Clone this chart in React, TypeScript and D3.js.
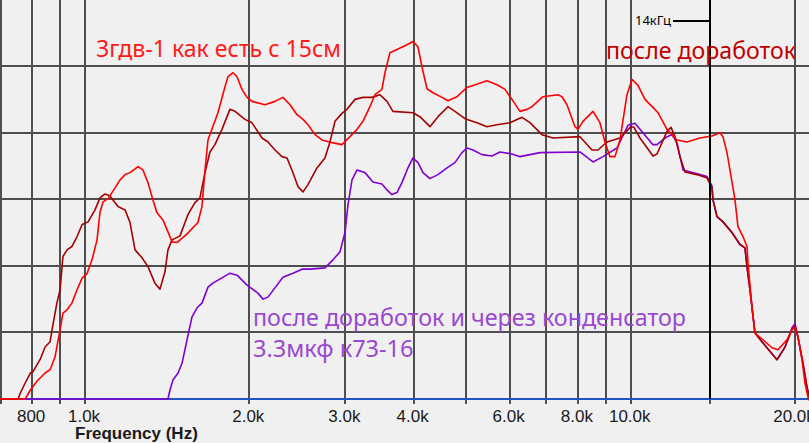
import React from "react";
import * as d3 from "d3";

// ---- data (Hz / dB) ----
const freqOriginal = [699, 777, 794, 817, 845, 863, 881, 900, 911, 927, 946, 967, 988, 1008, 1030, 1052, 1065, 1079, 1102, 1135, 1159, 1184, 1209, 1251, 1277, 1304, 1332, 1354, 1389, 1419, 1444, 1474, 1538, 1610, 1638, 1659, 1680, 1708, 1752, 1805, 1828, 1867, 1899, 1939, 1981, 2022, 2137, 2229, 2305, 2375, 2446, 2509, 2562, 2639, 2717, 2835, 2957, 3033, 3151, 3231, 3327, 3399, 3500, 3545, 3620, 3729, 3890, 3990, 4075, 4144, 4233, 4341, 4510, 4625, 4803, 5011, 5139, 5452, 5687, 5882, 6058, 6267, 6454, 6592, 6905, 7356, 7482, 7641, 7904, 8004, 8175, 8528, 8781, 8970, 9161, 9357, 9556, 9843, 10053, 10310, 10620, 10984, 11218, 11653, 12155, 12679, 13392, 14089, 14572, 14759, 15010, 15200, 15525, 15722, 16058, 16331, 16400, 16679, 16892, 17472, 18148, 18614, 19335, 19747, 19999, 20253, 20598, 20861, 21126, 21486];
const levelOriginal = [40, 40, 41.35, 42.7, 43.9, 44.4, 46.3, 50.4, 52.9, 53.4, 54.4, 56.4, 58.2, 58.8, 60.9, 63.9, 68.0, 69.6, 70.1, 71.7, 72.9, 73.7, 74.0, 74.9, 74.4, 72.5, 69.9, 68.0, 66.9, 65.1, 63.6, 63.5, 64.8, 66.5, 68.9, 74.4, 78.9, 80.5, 83.0, 86.9, 88.4, 89.0, 88.4, 86.5, 85.3, 84.7, 84.2, 84.7, 85.3, 84.2, 82.7, 82.0, 81.2, 79.7, 78.9, 78.5, 78.2, 79.1, 80.5, 81.7, 83.9, 85.7, 86.5, 89.0, 92.0, 92.5, 93.2, 93.7, 92.9, 89.9, 86.6, 86.0, 85.3, 84.8, 85.4, 86.8, 87.1, 87.8, 87.2, 86.5, 85.0, 83.2, 83.5, 83.9, 85.4, 85.7, 85.4, 84.2, 80.9, 80.5, 81.7, 83.2, 81.5, 78.6, 76.4, 76.4, 78.9, 85.7, 88.0, 87.1, 85.0, 83.8, 83.0, 80.5, 78.9, 78.6, 79.2, 79.5, 80.0, 79.4, 77.0, 74.4, 69.9, 65.9, 64.4, 62.9, 60.5, 53.8, 49.9, 48.9, 47.7, 47.4, 48.9, 50.4, 50.8, 49.3, 45.9, 42.4, 40.3, 38.3];

const freqModified = [699, 754, 761, 777, 794, 803, 827, 845, 863, 870, 888, 900, 911, 927, 946, 967, 988, 1013, 1043, 1065, 1088, 1111, 1149, 1184, 1209, 1235, 1272, 1304, 1343, 1372, 1401, 1419, 1444, 1493, 1544, 1590, 1624, 1659, 1694, 1730, 1782, 1843, 1883, 1964, 2022, 2110, 2164, 2229, 2296, 2345, 2394, 2456, 2509, 2562, 2661, 2752, 2811, 2871, 2957, 3020, 3124, 3231, 3356, 3471, 3575, 3667, 3990, 4109, 4286, 4434, 4625, 4763, 4969, 5227, 5452, 5687, 6007, 6319, 6536, 6876, 7203, 8072, 8492, 8709, 9046, 9556, 10011, 10138, 10398, 10984, 11171, 11653, 11852, 12053, 12310, 12572, 13225, 13795, 14089, 14149, 14390, 14759, 15329, 15855, 16194, 16331, 16538, 16892, 17398, 18536, 19172, 19747, 19999, 20253, 20686, 21038, 21396];
const levelModified = [40, 40, 40.9, 42.4, 43.9, 44.1, 45.9, 47.8, 48.6, 50.4, 54.4, 56.4, 61.4, 62.4, 62.9, 64.4, 66.2, 66.6, 68.4, 70.2, 70.8, 70.5, 68.9, 68.4, 66.5, 62.4, 61.2, 59.9, 57.4, 56.5, 59.1, 62.4, 63.9, 64.5, 67.7, 69.5, 70.2, 74.0, 77.1, 78.2, 80.5, 83.5, 83.2, 82.0, 81.5, 79.2, 78.6, 77.4, 76.4, 76.2, 74.4, 71.9, 71.1, 72.2, 74.7, 76.2, 78.6, 81.7, 82.9, 83.5, 85.0, 85.3, 85.3, 85.7, 84.7, 83.2, 83.0, 82.4, 80.9, 82.4, 83.9, 83.2, 82.1, 81.5, 80.9, 81.2, 81.5, 82.3, 81.5, 79.7, 79.2, 79.4, 77.4, 77.4, 78.6, 79.2, 80.9, 80.8, 79.2, 76.5, 76.8, 80.2, 80.8, 79.4, 76.4, 74.1, 73.7, 73.2, 71.7, 69.9, 67.4, 66.6, 65.0, 63.2, 62.7, 59.9, 56.4, 49.9, 48.6, 45.9, 47.8, 50.4, 51.0, 49.3, 45.4, 41.8, 39.1];

const freqCapacitor = [699, 1419, 1431, 1450, 1481, 1506, 1538, 1570, 1604, 1638, 1680, 1715, 1782, 1843, 1899, 1981, 2074, 2119, 2164, 2248, 2305, 2405, 2498, 2584, 2752, 2847, 2932, 2995, 3033, 3085, 3151, 3258, 3370, 3500, 3575, 3651, 3729, 3808, 3906, 3990, 4075, 4162, 4286, 4434, 4606, 4763, 4906, 5011, 5139, 5338, 5568, 5759, 6058, 6267, 6818, 8072, 8528, 8895, 9437, 9884, 10181, 10398, 10984, 11171, 11653, 11901, 12155, 12467, 13392, 13795, 14089, 14149, 14390, 14759, 15329, 15855, 16194, 16331, 16538, 16892, 17398, 18536, 19172, 19747, 19999, 20253, 20686, 21038, 21396];
const levelCapacitor = [40, 40, 41.35, 42.9, 43.9, 45.4, 48.9, 52.3, 53.7, 54.4, 56.8, 57.4, 58.2, 58.9, 58.6, 57.1, 55.9, 55.0, 55.3, 57.1, 58.3, 58.9, 59.5, 59.5, 59.7, 60.9, 62.1, 65.0, 69.2, 72.9, 74.4, 74.0, 72.6, 72.3, 71.4, 70.7, 71.0, 72.5, 74.7, 76.2, 75.5, 74.0, 73.1, 73.7, 74.7, 75.5, 77.0, 77.7, 77.4, 76.7, 76.5, 77.1, 76.8, 76.4, 77.0, 77.1, 75.6, 76.4, 77.7, 81.1, 81.4, 80.5, 78.2, 78.2, 79.4, 79.7, 78.5, 74.4, 73.7, 73.4, 72.0, 69.9, 67.4, 66.6, 65.0, 63.2, 62.7, 59.9, 56.4, 49.9, 48.6, 45.9, 47.8, 50.7, 51.3, 49.3, 45.4, 41.8, 39.1];

const gridFreqs = [700, 800, 900, 1000, 2000, 3000, 4000, 5000, 6000, 7000, 8000, 9000, 10000, 20000];
const gridLevels = [50, 60, 70, 80, 90];
const tickFreqs = [800, 1000, 2000, 3000, 4000, 6000, 8000, 10000, 20000];
const tickLabels = ["800", "1.0k", "2.0k", "3.0k", "4.0k", "6.0k", "8.0k", "10.0k", "20.0k"];
const markerFreq = 14000;
const markerLabel = "14кГц";
const titleOriginal = "3гдв-1 как есть с 15см";
const titleModified = "после доработок";
const titleCapacitor1 = "после доработок и через конденсатор";
const titleCapacitor2 = "3.3мкф к73-16";
const axisTitle = "Frequency (Hz)";

const W = 809;
const H = 443;
const AXIS_Y = 399;

export default function App() {
  const x = d3.scaleLog().domain([700, 20000]).range([0.5, 795]);
  const y = d3.scaleLinear().domain([40, 100]).range([AXIS_Y, -0.5]);
  const line = d3
    .line<[number, number]>()
    .x((d) => x(d[0]))
    .y((d) => y(d[1]));
  const zip = (f: number[], l: number[]) => f.map((v, i) => [v, l[i]] as [number, number]);
  const series = [
    { f: freqCapacitor, l: levelCapacitor, c: "#8000d0" },
    { f: freqModified, l: levelModified, c: "#a50000" },
    { f: freqOriginal, l: levelOriginal, c: "#ff0000" },
  ];
  const gx = (f: number) => Math.round(x(f));
  const gy = (v: number) => Math.round(y(v));
  const mx = gx(markerFreq);
  return (
    <svg
      width={W}
      height={H}
      style={{ position: "absolute", left: 0, top: 0, display: "block" }}
      fontFamily="'Liberation Sans', Arial, sans-serif"
    >
      <defs>
        <clipPath id="plotClip">
          <rect x={0} y={0} width={W} height={AXIS_Y + 1.5} />
        </clipPath>
      </defs>
      <rect x={0} y={0} width={W} height={H} fill="#f0f0f0" />
      {gridLevels.map((v) => (
        <line key={"h" + v} x1={0} x2={W} y1={gy(v)} y2={gy(v)} stroke="#4e4e4e" strokeWidth={2} />
      ))}
      {gridFreqs.map((f) => (
        <line key={"v" + f} x1={gx(f)} x2={gx(f)} y1={0} y2={AXIS_Y + 5} stroke="#4e4e4e" strokeWidth={2} />
      ))}
      <line x1={mx} x2={mx} y1={AXIS_Y} y2={AXIS_Y + 5} stroke="#4e4e4e" strokeWidth={2} />
      <line x1={0} x2={W} y1={AXIS_Y} y2={AXIS_Y} stroke="#2255c4" strokeWidth={2} />
      <g clipPath="url(#plotClip)">
        {series.map((s, i) => (
          <path key={i} d={line(zip(s.f, s.l)) || ""} fill="none" stroke={s.c} strokeWidth={1.6} strokeLinejoin="round" />
        ))}
      </g>
      <line x1={mx} x2={mx} y1={0} y2={AXIS_Y} stroke="#000" strokeWidth={2} />
      <line x1={673} x2={mx} y1={21} y2={21} stroke="#000" strokeWidth={2} />
      <text x={635} y={25} fontSize={13} fontFamily="'Noto Sans', sans-serif" fill="#000">
        {markerLabel}
      </text>
      <text x={96} y={57} fontSize={23.5} fontFamily="'Noto Sans', sans-serif" fill="#ff1a1a" textLength={245} lengthAdjust="spacingAndGlyphs">
        {titleOriginal}
      </text>
      <text x={606} y={59} fontSize={23.5} fontFamily="'Noto Sans', sans-serif" fill="#c00000" textLength={190} lengthAdjust="spacingAndGlyphs">
        {titleModified}
      </text>
      <text x={253} y={326} fontSize={23.5} fontFamily="'Noto Sans', sans-serif" fill="#9a48d0" textLength={433} lengthAdjust="spacingAndGlyphs">
        {titleCapacitor1}
      </text>
      <text x={253} y={357} fontSize={23.5} fontFamily="'Noto Sans', sans-serif" fill="#9a48d0">
        {titleCapacitor2}
      </text>
      {tickFreqs.map((f, i) => (
        <text key={"t" + f} x={x(f) - 1} y={422} fontSize={17} textAnchor="middle" fill="#1a1a1a">
          {tickLabels[i]}
        </text>
      ))}
      <text x={75} y={439} fontSize={17} fontWeight="bold" fill="#1a1a1a">
        {axisTitle}
      </text>
    </svg>
  );
}
